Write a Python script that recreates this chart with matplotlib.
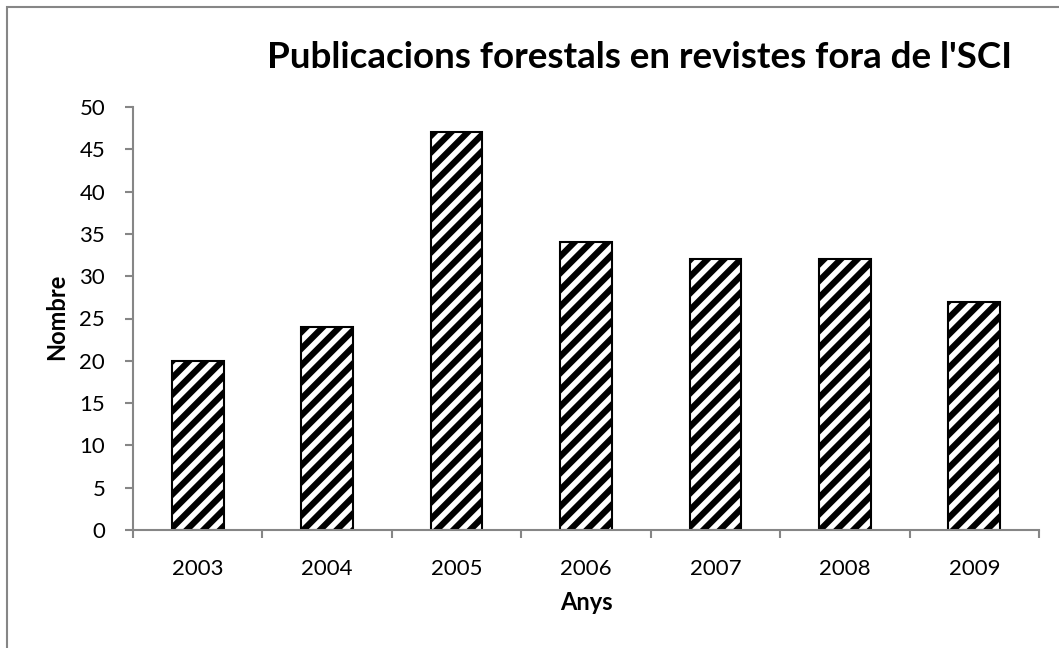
import numpy as np
import matplotlib.pyplot as plt
from matplotlib.patches import Rectangle

years = ['2003', '2004', '2005', '2006', '2007', '2008', '2009']
counts = [20, 24, 47, 34, 32, 32, 27]

plt.rcParams['font.family'] = ['Lato', 'DejaVu Sans']
plt.rcParams['hatch.linewidth'] = 4.5
plt.rcParams['hatch.color'] = 'black'

W, H = 1059, 648
fig = plt.figure(figsize=(W / 100, H / 100), dpi=100)
ax = fig.add_axes([133 / W, 1 - 530 / H, (1039 - 133) / W, (530 - 107) / H])

x = np.arange(len(years))
ax.bar(x, counts, width=0.4, color='white', edgecolor='black',
       linewidth=1.5, hatch='//')

ax.set_xlim(-0.5, len(years) - 0.5)
ax.set_ylim(0, 50)
ax.set_yticks(np.arange(0, 51, 5))
ax.set_xticks(x)
ax.set_xticklabels(years)
ax.set_xticks(np.arange(-0.5, len(years), 1), minor=True)

gray = '#868686'
for s in ['top', 'right']:
    ax.spines[s].set_visible(False)
for s in ['left', 'bottom']:
    ax.spines[s].set_color(gray)
    ax.spines[s].set_linewidth(1.5)

ax.tick_params(axis='x', which='major', length=0, pad=21, labelsize=16)
ax.tick_params(axis='x', which='minor', length=6, width=1.5, color=gray)
ax.tick_params(axis='y', length=6, width=1.5, color=gray, pad=14, labelsize=16)

fig.text(640 / W, 1 - 57 / H, "Publicacions forestals en revistes fora de l'SCI",
         ha='center', va='center', fontsize=26.5, fontweight='bold')
fig.text(57 / W, 1 - 317 / H, 'Nombre', ha='center', va='center',
         rotation=90, fontsize=17, fontweight='bold')
fig.text(586 / W, 1 - 603 / H, 'Anys', ha='center', va='center',
         fontsize=17, fontweight='bold')

# chart area border
fig.patches.append(Rectangle((7 / W, -0.05), 1.1, 1 - 7 / H + 0.05,
                             transform=fig.transFigure, fill=False,
                             edgecolor=gray, linewidth=1.5))

fig.savefig('out.png', dpi=100, facecolor='white')
